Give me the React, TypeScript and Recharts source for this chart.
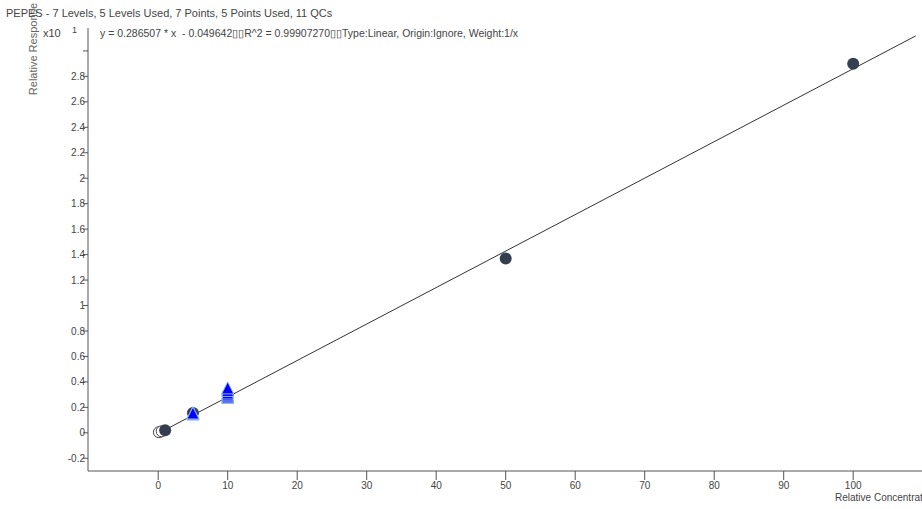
import { ScatterChart, Scatter, XAxis, YAxis } from "recharts";

const xTicks = [0, 10, 20, 30, 40, 50, 60, 70, 80, 90, 100];
const yTicks = [-0.2, 0, 0.2, 0.4, 0.6, 0.8, 1, 1.2, 1.4, 1.6, 1.8, 2, 2.2, 2.4, 2.6, 2.8, 3];

// calibration points that were used in the fit
const usedPoints = [
  { x: 1, y: 0.02 },
  { x: 5, y: 0.155 },
  { x: 10, y: 0.3 },
  { x: 50, y: 1.37 },
  { x: 100, y: 2.9 },
];

// excluded calibration points (open circles)
const unusedPoints = [
  { x: 0.1, y: 0.005 },
  { x: 0.5, y: 0.012 },
];

const qcPoints = [
  { x: 5, y: 0.14 },
  { x: 5, y: 0.145 },
  { x: 5, y: 0.15 },
  { x: 5, y: 0.142 },
  { x: 5, y: 0.148 },
  { x: 10, y: 0.27 },
  { x: 10, y: 0.28 },
  { x: 10, y: 0.29 },
  { x: 10, y: 0.305 },
  { x: 10, y: 0.325 },
  { x: 10, y: 0.345 },
];

// end points of the regression line y = 0.286507 * x - 0.049642 (x10)
const fitLine = [
  { x: 0, y: -0.005 },
  { x: 109, y: 3.118 },
];

const title = "PEPES - 7 Levels, 5 Levels Used, 7 Points, 5 Points Used, 11 QCs";
const equation = "y = 0.286507 * x  - 0.049642\u25AF\u25AFR^2 = 0.99907270\u25AF\u25AFType:Linear, Origin:Ignore, Weight:1/x";

const font = "'Liberation Sans', Arial, sans-serif";
const textColor = "#444";

const FilledDot = (p: any) => <circle cx={p.cx} cy={p.cy} r={6} fill="#333f4f" />;
const OpenDot = (p: any) => (
  <circle cx={p.cx} cy={p.cy} r={5.5} fill="#fff" stroke="#444" strokeWidth={1} />
);
const Triangle = (p: any) => (
  <path
    d={`M${p.cx},${p.cy - 7} L${p.cx + 6},${p.cy + 5} L${p.cx - 6},${p.cy + 5} Z`}
    fill="#0000ff"
    stroke="#8fb8ee"
    strokeWidth={1}
  />
);
const NoShape = () => <g />;

export default function App() {
  return (
    <div style={{ position: "absolute", left: 0, top: 0, width: 922, height: 509, fontFamily: font }}>
      <ScatterChart width={922} height={509} margin={{ top: 28, right: 0, bottom: 0, left: 0 }}>
        <XAxis
          type="number"
          dataKey="x"
          domain={[-10.1, 109.9]}
          ticks={xTicks}
          height={38}
          axisLine={{ stroke: "#555" }}
          tickLine={{ stroke: "#555" }}
          tickSize={9}
          tick={{ fill: textColor, fontSize: 10, fontFamily: font }}
        />
        <YAxis
          type="number"
          dataKey="y"
          domain={[-0.3, 3.18]}
          ticks={yTicks}
          width={88}
          allowDataOverflow
          axisLine={{ stroke: "#555" }}
          tickLine={{ stroke: "#555" }}
          tickSize={5}
          tickFormatter={(v: number) => (v === 3 ? "" : String(Math.round(v * 10) / 10))}
          tick={{ fill: textColor, fontSize: 10, fontFamily: font, dx: 4 }}
        />
        <Scatter data={fitLine} line={{ stroke: "#333", strokeWidth: 1 }} shape={NoShape} isAnimationActive={false} />
        <Scatter data={unusedPoints} shape={OpenDot} isAnimationActive={false} />
        <Scatter data={usedPoints} shape={FilledDot} isAnimationActive={false} />
        <Scatter data={qcPoints} shape={Triangle} isAnimationActive={false} />
      </ScatterChart>
      <div
        style={{
          position: "absolute",
          left: 33,
          top: 49,
          transform: "translate(-50%, -50%) rotate(-90deg)",
          fontSize: 11,
          color: "#666",
          whiteSpace: "nowrap",
        }}
      >
        Relative Response
      </div>
      <div style={{ position: "absolute", left: 6, top: 7, fontSize: 11, color: textColor, whiteSpace: "nowrap" }}>
        {title}
      </div>
      <div style={{ position: "absolute", left: 43, top: 27, fontSize: 11, color: textColor }}>x10</div>
      <div style={{ position: "absolute", left: 72, top: 25, fontSize: 9, color: textColor }}>1</div>
      <div style={{ position: "absolute", left: 100, top: 27, fontSize: 10.5, color: textColor, whiteSpace: "pre" }}>
        {equation}
      </div>
      <div style={{ position: "absolute", left: 835, top: 492, fontSize: 10, color: textColor, whiteSpace: "nowrap" }}>
        Relative Concentration
      </div>
    </div>
  );
}
